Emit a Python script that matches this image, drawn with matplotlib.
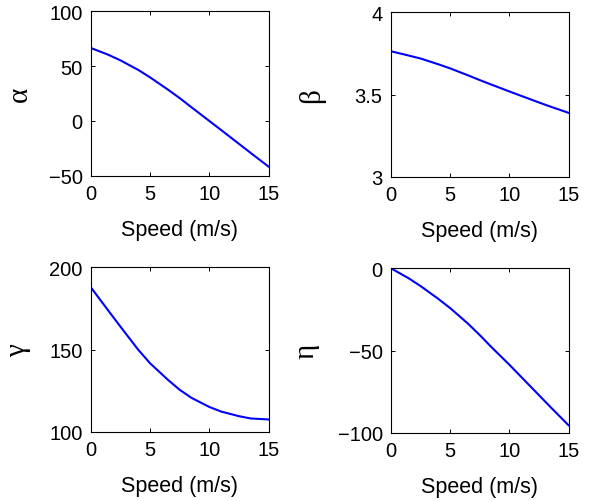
import matplotlib
matplotlib.use("Agg")
import matplotlib.pyplot as plt

speed = [0, 1.5, 2.5, 4, 5, 6.5, 7.5, 8.5, 10, 11, 12.5, 13.5, 15]
alpha = [66.5, 60.2, 55.2, 46.5, 39.7, 28.6, 20.8, 12.4, 0.0, -8.3, -20.8, -29.2, -41.6]
beta = [3.763, 3.737, 3.719, 3.684, 3.659, 3.617, 3.588, 3.560, 3.519, 3.492, 3.452, 3.426, 3.389]
gamma = [187.7, 173.3, 163.8, 149.8, 141.6, 131.6, 125.5, 120.6, 115.1, 112.3, 109.5, 108.1, 107.5]
eta = [0.0, -6.1, -10.8, -18.6, -24.2, -33.6, -40.6, -48.0, -58.6, -66.0, -77.1, -84.5, -95.4]

panels = [
    dict(y=alpha, label="\u03b1", ylim=(-50, 100), yticks=[-50, 0, 50, 100],
         yticklabels=["\u221250", "0", "50", "100"], pos=(91, 12.3), lx=-0.33),
    dict(y=beta, label="\u03b2", ylim=(3, 4), yticks=[3, 3.5, 4],
         yticklabels=["3", "3.5", "4"], pos=(391, 13.3), lx=-0.37),
    dict(y=gamma, label="\u03b3", ylim=(100, 200), yticks=[100, 150, 200],
         yticklabels=["100", "150", "200"], pos=(91, 268.3), lx=-0.335),
    dict(y=eta, label="\u03b7", ylim=(-100, 0), yticks=[-100, -50, 0],
         yticklabels=["\u2212100", "\u221250", "0"], pos=(391, 269.3), lx=-0.40),
]

W, H = 607, 502
fig = plt.figure(figsize=(W / 100, H / 100), dpi=100)
plt.rcParams["font.family"] = ["Liberation Sans", "DejaVu Sans"]

aw, ah = 177.5, 164.5
for p in panels:
    x0, y0 = p["pos"]
    ax = fig.add_axes([x0 / W, 1 - (y0 + ah) / H, aw / W, ah / H])
    ax.plot(speed, p["y"], color=(0, 0, 1), lw=1.5)
    ax.set_xlim(0, 15)
    ax.set_ylim(*p["ylim"])
    ax.set_xticks([0, 5, 10, 15])
    ax.set_xticklabels(["0", "5", "10", "15"])
    ax.set_yticks(p["yticks"])
    ax.set_yticklabels(p["yticklabels"])
    ax.tick_params(direction="in", length=3, width=0.7, top=True, right=True,
                   labelsize=14.5, pad=6, colors="black")
    for s in ax.spines.values():
        s.set_linewidth(0.8)
        s.set_color("black")
    ax.set_xlabel("Speed (m/s)", fontsize=15.5)
    ax.xaxis.set_label_coords(0.5, -0.265)
    ax.set_ylabel(p["label"], fontsize=21, family=["Liberation Serif", "DejaVu Serif"])
    ax.yaxis.set_label_coords(p["lx"], 0.5)

fig.savefig("out.png", dpi=100)
